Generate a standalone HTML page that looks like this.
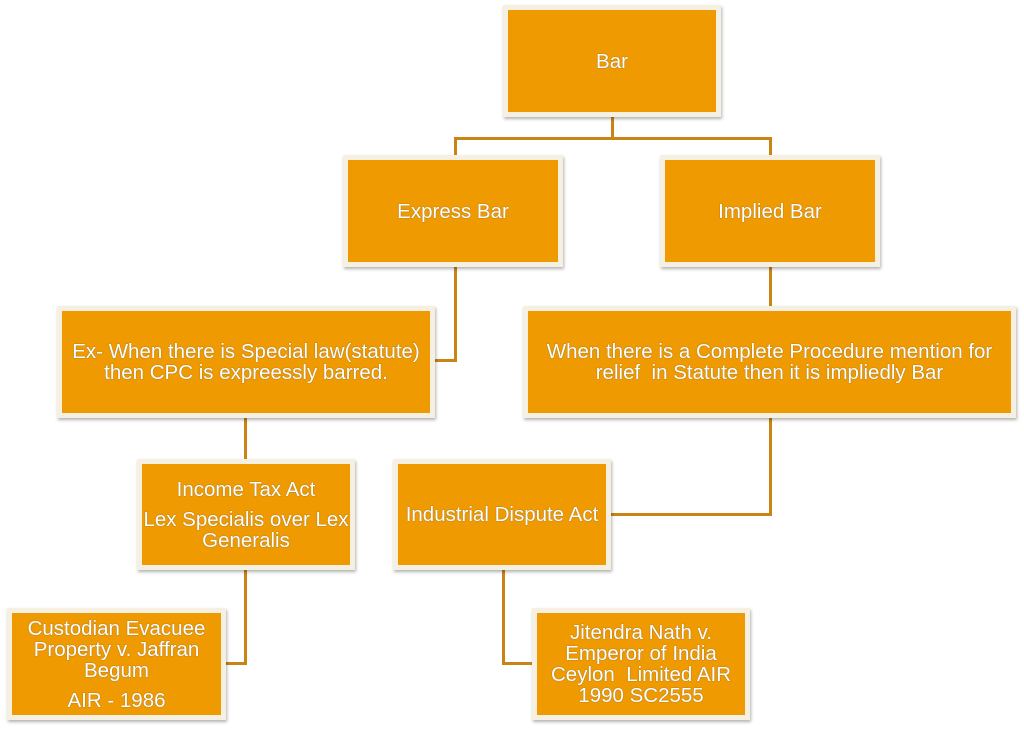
<!DOCTYPE html>
<html><head><style>
body{margin:0;width:1024px;height:730px;background:#fff;position:relative;overflow:hidden;font-family:"Liberation Sans",sans-serif}
.b{position:absolute;box-sizing:border-box;background:#ef9a00;border:5px solid #f6f0e2;box-shadow:1px 2px 3px rgba(0,0,0,.3);display:flex;flex-direction:column;align-items:center;justify-content:center;text-align:center;color:#fff;font-size:20.5px;line-height:21px;text-shadow:0 0 1px #555;white-space:nowrap}
.l{position:absolute;background:#c98416}
</style></head><body>
<div class="l" style="left:611px;top:115px;width:3px;height:24px"></div>
<div class="l" style="left:454px;top:137px;width:318px;height:3px"></div>
<div class="l" style="left:454px;top:137px;width:3px;height:20px"></div>
<div class="l" style="left:769px;top:137px;width:3px;height:20px"></div>
<div class="l" style="left:454px;top:265px;width:3px;height:97px"></div>
<div class="l" style="left:433px;top:359px;width:24px;height:3px"></div>
<div class="l" style="left:769px;top:265px;width:3px;height:43px"></div>
<div class="l" style="left:244px;top:416px;width:3px;height:45px"></div>
<div class="l" style="left:769px;top:416px;width:3px;height:100px"></div>
<div class="l" style="left:609px;top:513px;width:163px;height:3px"></div>
<div class="l" style="left:244px;top:568px;width:3px;height:97px"></div>
<div class="l" style="left:224px;top:662px;width:23px;height:3px"></div>
<div class="l" style="left:502px;top:568px;width:3px;height:97px"></div>
<div class="l" style="left:502px;top:662px;width:32px;height:3px"></div>

<div class="b" style="left:503px;top:5px;width:218px;height:112px">Bar</div>
<div class="b" style="left:343px;top:155px;width:220px;height:112px">Express Bar</div>
<div class="b" style="left:660px;top:155px;width:220px;height:112px">Implied Bar</div>
<div class="b" style="left:57px;top:306px;width:378px;height:112px">Ex- When there is Special law(statute)<br>then CPC is expreessly barred.</div>
<div class="b" style="left:523px;top:306px;width:493px;height:112px">When there is a Complete Procedure mention for<br>relief&nbsp; in Statute then it is impliedly Bar</div>
<div class="b" style="left:137px;top:459px;width:218px;height:111px"><div style="margin-bottom:9px">Income Tax Act</div>Lex Specialis over Lex<br>Generalis</div>
<div class="b" style="left:393px;top:459px;width:218px;height:111px">Industrial Dispute Act</div>
<div class="b" style="left:7px;top:608px;width:219px;height:112px">Custodian Evacuee<br>Property v. Jaffran<br>Begum<div style="margin-top:9px">AIR - 1986</div></div>
<div class="b" style="left:532px;top:608px;width:218px;height:112px">Jitendra Nath v.<br>Emperor of India<br>Ceylon&nbsp; Limited AIR<br>1990 SC2555</div>
</body></html>
